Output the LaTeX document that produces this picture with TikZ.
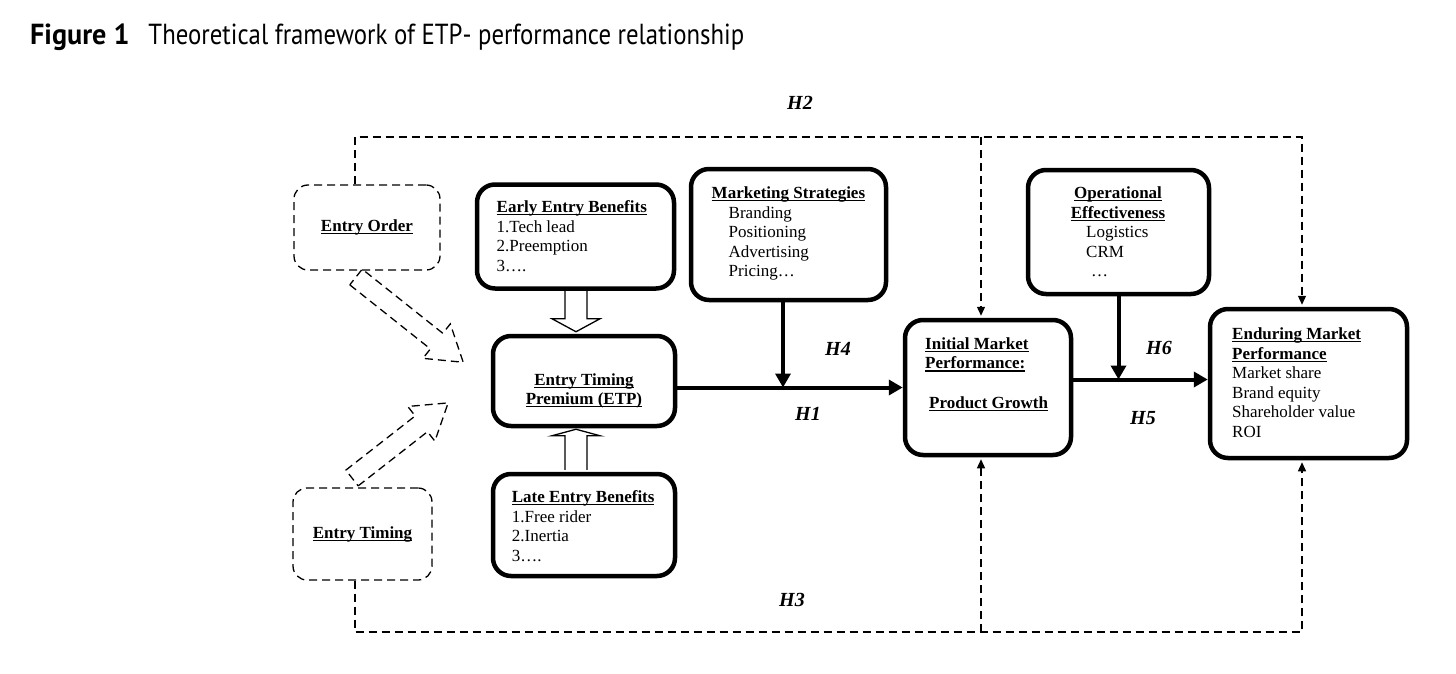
\documentclass[tikz,border=0pt]{standalone}
\usepackage{fontspec}
\setmainfont{Liberation Serif}
\newfontfamily\titlefont{PT Sans}
\usepackage{graphicx}
\usetikzlibrary{arrows.meta,calc}
\newsavebox\myhdbox
\newcommand{\hd}[1]{\sbox\myhdbox{\textbf{#1}}\rlap{\rule[-2.7pt]{\wd\myhdbox}{1.1pt}}\usebox\myhdbox}
\begin{document}
\begin{tikzpicture}[x=1pt,y=-1pt,
  box/.style={draw, line width=4.5pt, rounded corners=18pt, inner sep=0pt},
  dbox/.style={draw, line width=1.3pt, dash pattern=on 8pt off 5pt, rounded corners=14pt, inner sep=0pt, font=\fontsize{17}{19.6}\selectfont},
  txt/.style={inner sep=0pt, align=left, font=\fontsize{17}{19.6}\selectfont},
  ctxt/.style={inner sep=0pt, align=center, font=\fontsize{17}{19.6}\selectfont},
  hyp/.style={inner sep=0pt, font=\fontsize{20}{24}\selectfont\bfseries\itshape},
  dl/.style={line width=1.3pt, dash pattern=on 8pt off 5pt},
  dtip/.style={-{Triangle[length=9pt,width=8pt]}},
  mainarrow/.style={line width=4pt, -{Triangle[length=14pt,width=15pt]}},
  harrow/.style={line width=1.3pt},
  hdarrow/.style={line width=1.3pt, dash pattern=on 8pt off 5pt}
]
\useasboundingbox (0,0) rectangle (1456,674);

% title
\node[anchor=base west, inner sep=0pt] (title) at (30,45) {\titlefont\fontsize{29}{32}\selectfont\scalebox{0.97}[1]{\textbf{Figure 1}}\hspace{19pt}\scalebox{0.855}[1]{Theoretical framework of ETP- performance relationship}};

% boxes
\node[dbox, minimum width=146pt, minimum height=85pt] (eo) at (367,227.5) {\hd{Entry Order}};
\node[dbox, minimum width=139pt, minimum height=92pt] (et) at (362.5,534) {\hd{Entry Timing}};
\node[box, minimum width=197pt, minimum height=104pt] (eeb) at (575.5,236.5) {};
\node[box, minimum width=195pt, minimum height=131pt] (ms) at (788.5,234.5) {};
\node[box, minimum width=182pt, minimum height=90pt] (etp) at (584,381) {};
\node[box, minimum width=182pt, minimum height=102pt] (leb) at (584,525) {};
\node[box, minimum width=166pt, minimum height=135pt] (ima) at (988,387.5) {};
\node[box, minimum width=181pt, minimum height=124pt] (oe) at (1118.5,232) {};
\node[box, minimum width=197pt, minimum height=149pt] (emp) at (1308.5,383.5) {};

% box texts (base anchor = baseline of the last line)
\node[txt, anchor=base west] (eebT) at (496.5,271.3) {\hd{Early Entry Benefits}\\1.Tech lead\\2.Preemption\\3….};
\node[txt, anchor=base west] (msT) at (711.5,276.9) {\hd{Marketing Strategies}\\\hspace*{17pt}Branding\\\hspace*{17pt}Positioning\\\hspace*{17pt}Advertising\\\hspace*{17pt}Pricing…};
\node[ctxt, anchor=base] (etpT) at (584,404.6) {\hd{Entry Timing}\\\hd{Premium (ETP)}};
\node[txt, anchor=base west] (lebT) at (511.7,561.3) {\hd{Late Entry Benefits}\\1.Free rider\\2.Inertia\\3….};
\node[txt, anchor=base west] (imaT) at (925,408) {\hd{Initial Market}\\\hd{Performance:}\\[19.6pt]\hspace*{4pt}\hd{Product Growth}};
\node[ctxt, anchor=base] (oeT) at (1118,218.1) {\hd{Operational}\\\hd{Effectiveness}};
\node[txt, anchor=base west] (oeL) at (1086,276.7) {Logistics\\CRM\\\hspace*{5pt}…};
\node[txt, anchor=base west] (empT) at (1232,437.5) {\hd{Enduring Market}\\\hd{Performance}\\Market share\\Brand equity\\Shareholder value\\ROI};

% hypothesis labels
\node[hyp] (h2) at (800,103) {H2};
\node[hyp] (h3) at (792,600) {H3};
\node[hyp] (h4) at (838,349) {H4};
\node[hyp] (h1) at (808,414) {H1};
\node[hyp] (h6) at (1159,348) {H6};
\node[hyp] (h5) at (1143,418) {H5};

% dashed frame
\coordinate (tl) at (355,137);
\coordinate (tm) at (981,137);
\coordinate (tr) at (1302,137);
\coordinate (bl) at (355,632);
\coordinate (bm) at (981,632);
\coordinate (br) at (1302,632);
\draw[dl, dtip] (eo.north -| tl) -- (tl) -- (tr) -- ($(tr |- emp.north)+(0,-2)$);
\draw[dl, dtip] (tm) -- ($(tm |- ima.north)+(0,-2)$);
\draw[dl, dtip] (et.south -| bl) -- (bl) -- (br) -- ($(br |- emp.south)+(0,2)$);
\draw[dl, dtip] (bm) -- ($(bm |- ima.south)+(0,2)$);

% dashed hollow arrows
\coordinate (a1) at (356,277);
\coordinate (a2) at (352,478);
\draw[hdarrow, shift={(a1)}, rotate=-38.5] (0,10) -- (103,10) -- (103,22) -- (137,0) -- (103,-22) -- (103,-10) -- (0,-10) -- cycle;
\draw[hdarrow, shift={(a2)}, rotate=38] (0,10) -- (88,10) -- (88,22) -- (122,0) -- (88,-22) -- (88,-10) -- (0,-10) -- cycle;

% hollow arrows into ETP
\draw[harrow] ($(eeb.south)+(-10.5,0)$) -- ++(0,28) -- ++(-13,0) -- ($(eeb.south |- etp.north)+(0.5,-2)$) -- ($(eeb.south)+(24.5,28)$) -- ++(-13,0) -- ($(eeb.south)+(11.5,0)$);
\draw[harrow] ($(leb.north)+(-19,-2)$) -- ++(0,-34) -- ++(-13,0) -- ($(etp.south)+(-8,1)$) -- ($(leb.north)+(16,-36)$) -- ++(-13,0) -- ($(leb.north)+(3,-2)$);

% main arrows
\draw[mainarrow] (etp.east |- ima.west) -- (ima.west);
\draw[mainarrow] ($(ms.south)+(-5.5,0)$) -- ($(ms.south |- ima.west)+(-5.5,0)$);
\coordinate (h5s) at ($(ima.east)+(0,-8)$);
\draw[mainarrow] (h5s) -- (h5s -| emp.west);
\draw[mainarrow] (oe.south) -- (oe.south |- h5s);
\end{tikzpicture}
\end{document}
